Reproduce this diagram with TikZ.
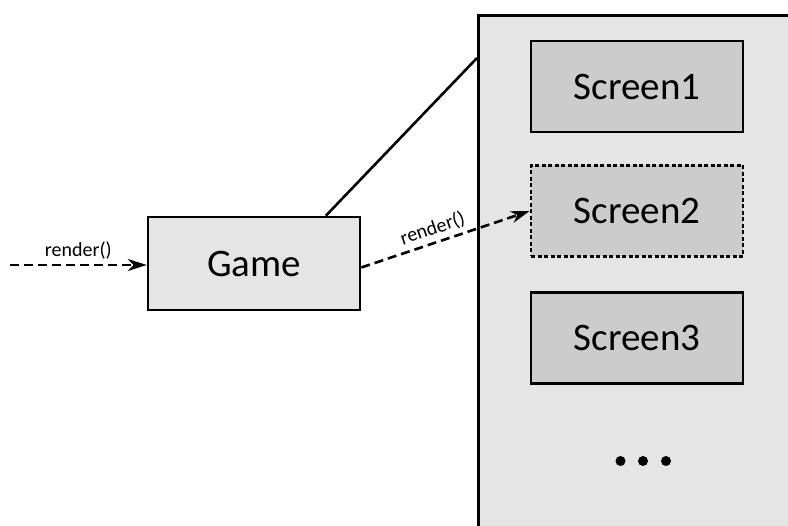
\documentclass[tikz,border=0pt]{standalone}
\usepackage{fontspec}
\setmainfont{Carlito}
\usetikzlibrary{arrows.meta,calc}
\definecolor{panelgray}{HTML}{E5E5E5}
\definecolor{screengray}{HTML}{CCCCCC}
\tikzset{
  box/.style={draw=black, line width=2.6pt, rectangle, inner sep=0pt, font=\fontsize{39}{47}\selectfont},
  screenbox/.style={box, fill=screengray, minimum width=212pt, minimum height=91pt},
  call/.style={line width=2.6pt, dash pattern=on 9pt off 5pt, -{Stealth[length=19pt,width=12pt,inset=6pt]}},
  calllabel/.style={font=\fontsize{20}{24}\selectfont, inner sep=4pt},
  link/.style={line width=2.6pt},
  dot/.style={circle, fill=black, minimum size=10pt, inner sep=0pt}
}
\begin{document}
\begin{tikzpicture}[x=1pt,y=-1pt]
\useasboundingbox (0,0) rectangle (788,526);
\clip (0,0) rectangle (788,526);

% container of screens (runs off the right and bottom edges)
\node[box, fill=panelgray, anchor=north west, minimum width=360pt, minimum height=560pt] (panel) at (477,14) {};

% screens
\node[screenbox] (s1) at (637,86.5) {Screen1};
\node[screenbox, dash pattern=on 4pt off 2.5pt] (s2) at (637,211) {Screen2};
\node[screenbox] (s3) at (637,338) {Screen3};

% ellipsis
\node[dot] (d1) at (620.5,461) {};
\node[dot] (d2) at (643,461) {};
\node[dot] (d3) at (666,461) {};

% game
\node[box, fill=panelgray, minimum width=212pt, minimum height=93pt] (game) at (254,263.5) {Game};

% connectors
\coordinate (caller) at (10,265);
\draw[call] (caller) -- (game.west |- caller) node[calllabel, midway, above] {render()};
\draw[link] ($(game.north west)!0.835!(game.north east)$) -- ($(panel.north west)+(0,44)$);
\draw[call] ($(game.east)+(0,4)$) -- (s2.west) node[calllabel, sloped, pos=0.45, above] {render()};
\end{tikzpicture}
\end{document}
